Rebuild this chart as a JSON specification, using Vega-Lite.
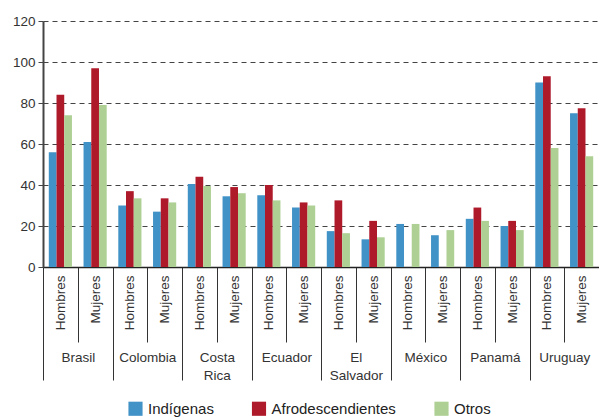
{
  "$schema": "https://vega.github.io/schema/vega-lite/v6.json",
  "width": 556,
  "height": 246,
  "autosize": {"type": "none"},
  "padding": {"left": 43, "top": 21, "right": 0, "bottom": 151},
  "background": "white",
  "config": {
    "view": {"stroke": null},
    "font": "Liberation Sans",
    "axis": {"labelFont": "Liberation Sans", "labelFontSize": 13.5, "labelColor": "#333333"}
  },
  "data": {
    "values": [
      {"grupo": "Brasil|Hombres", "serie": "Indígenas", "valor": 56},
      {"grupo": "Brasil|Hombres", "serie": "Afrodescendientes", "valor": 84},
      {"grupo": "Brasil|Hombres", "serie": "Otros", "valor": 74},
      {"grupo": "Brasil|Mujeres", "serie": "Indígenas", "valor": 61},
      {"grupo": "Brasil|Mujeres", "serie": "Afrodescendientes", "valor": 97},
      {"grupo": "Brasil|Mujeres", "serie": "Otros", "valor": 79},
      {"grupo": "Colombia|Hombres", "serie": "Indígenas", "valor": 30},
      {"grupo": "Colombia|Hombres", "serie": "Afrodescendientes", "valor": 37},
      {"grupo": "Colombia|Hombres", "serie": "Otros", "valor": 33.5},
      {"grupo": "Colombia|Mujeres", "serie": "Indígenas", "valor": 27},
      {"grupo": "Colombia|Mujeres", "serie": "Afrodescendientes", "valor": 33.5},
      {"grupo": "Colombia|Mujeres", "serie": "Otros", "valor": 31.5},
      {"grupo": "Costa Rica|Hombres", "serie": "Indígenas", "valor": 40.5},
      {"grupo": "Costa Rica|Hombres", "serie": "Afrodescendientes", "valor": 44},
      {"grupo": "Costa Rica|Hombres", "serie": "Otros", "valor": 39.5},
      {"grupo": "Costa Rica|Mujeres", "serie": "Indígenas", "valor": 34.5},
      {"grupo": "Costa Rica|Mujeres", "serie": "Afrodescendientes", "valor": 39},
      {"grupo": "Costa Rica|Mujeres", "serie": "Otros", "valor": 36},
      {"grupo": "Ecuador|Hombres", "serie": "Indígenas", "valor": 35},
      {"grupo": "Ecuador|Hombres", "serie": "Afrodescendientes", "valor": 40},
      {"grupo": "Ecuador|Hombres", "serie": "Otros", "valor": 32.5},
      {"grupo": "Ecuador|Mujeres", "serie": "Indígenas", "valor": 29},
      {"grupo": "Ecuador|Mujeres", "serie": "Afrodescendientes", "valor": 31.5},
      {"grupo": "Ecuador|Mujeres", "serie": "Otros", "valor": 30},
      {"grupo": "El Salvador|Hombres", "serie": "Indígenas", "valor": 17.5},
      {"grupo": "El Salvador|Hombres", "serie": "Afrodescendientes", "valor": 32.5},
      {"grupo": "El Salvador|Hombres", "serie": "Otros", "valor": 16.5},
      {"grupo": "El Salvador|Mujeres", "serie": "Indígenas", "valor": 13.5},
      {"grupo": "El Salvador|Mujeres", "serie": "Afrodescendientes", "valor": 22.5},
      {"grupo": "El Salvador|Mujeres", "serie": "Otros", "valor": 14.5},
      {"grupo": "México|Hombres", "serie": "Indígenas", "valor": 21},
      {"grupo": "México|Hombres", "serie": "Otros", "valor": 21},
      {"grupo": "México|Mujeres", "serie": "Indígenas", "valor": 15.5},
      {"grupo": "México|Mujeres", "serie": "Otros", "valor": 18},
      {"grupo": "Panamá|Hombres", "serie": "Indígenas", "valor": 23.5},
      {"grupo": "Panamá|Hombres", "serie": "Afrodescendientes", "valor": 29},
      {"grupo": "Panamá|Hombres", "serie": "Otros", "valor": 22.5},
      {"grupo": "Panamá|Mujeres", "serie": "Indígenas", "valor": 20},
      {"grupo": "Panamá|Mujeres", "serie": "Afrodescendientes", "valor": 22.5},
      {"grupo": "Panamá|Mujeres", "serie": "Otros", "valor": 18},
      {"grupo": "Uruguay|Hombres", "serie": "Indígenas", "valor": 90},
      {"grupo": "Uruguay|Hombres", "serie": "Afrodescendientes", "valor": 93},
      {"grupo": "Uruguay|Hombres", "serie": "Otros", "valor": 58},
      {"grupo": "Uruguay|Mujeres", "serie": "Indígenas", "valor": 75},
      {"grupo": "Uruguay|Mujeres", "serie": "Afrodescendientes", "valor": 77.5},
      {"grupo": "Uruguay|Mujeres", "serie": "Otros", "valor": 54}
    ]
  },
  "resolve": {"axis": {"x": "independent"}},
  "layer": [
    {
      "mark": {"type": "bar", "opacity": 0},
      "encoding": {
        "x": {
          "field": "grupo", "type": "nominal", "sort": null,
          "scale": {"paddingInner": 0, "paddingOuter": 0},
          "axis": {
            "orient": "bottom",
            "title": null,
            "domain": false,
            "labelExpr": "(datum.value && test(/Hombres/, '' + datum.value)) ? split(split('' + datum.value, '|')[0], ' ') : ''",
            "labelAngle": 0,
            "labelAlign": "center",
            "labelBaseline": "top",
            "labelOffset": 17.4,
            "labelPadding": -29.5,
            "labelLineHeight": 18,
            "labelOverlap": false,
            "tickBand": "extent",
            "tickSize": 113,
            "tickWidth": 1,
            "tickColor": {"condition": {"test": "!datum.value || datum.extra || test(/Mujeres/, '' + datum.value)", "value": "#333333"}, "value": "transparent"}
          }
        },
        "y": {
          "field": "valor", "type": "quantitative",
          "scale": {"domain": [0, 120], "nice": false},
          "axis": {
            "title": null,
            "values": [0, 20, 40, 60, 80, 100, 120],
            "grid": true,
            "gridDash": [5, 4],
            "gridColor": "#444444",
            "gridWidth": 1,
            "domainColor": "#444444",
            "domainWidth": 2,
            "tickColor": "#444444",
            "tickSize": 5,
            "labelPadding": 3
          }
        }
      }
    },
    {
      "mark": {"type": "bar"},
      "encoding": {
        "x": {
          "field": "grupo", "type": "nominal", "sort": null,
          "axis": {
            "orient": "bottom",
            "title": null,
            "labelExpr": "datum.value ? split('' + datum.value, '|')[1] : ''",
            "labelAngle": 270,
            "labelAlign": "right",
            "labelBaseline": "middle",
            "labelPadding": -67,
            "labelOverlap": false,
            "tickBand": "extent",
            "tickSize": 75,
            "tickColor": "#333333",
            "tickWidth": 1,
            "domainColor": "#222222",
            "domainWidth": 1.5
          }
        },
        "xOffset": {
          "field": "serie", "type": "nominal",
          "sort": ["Indígenas", "Afrodescendientes", "Otros"],
          "scale": {"domain": ["Indígenas", "Afrodescendientes", "Otros"], "paddingInner": 0, "paddingOuter": 0.75}
        },
        "y": {
          "field": "valor", "type": "quantitative",
          "axis": {
            "title": null,
            "values": [0, 20, 40, 60, 80, 100, 120],
            "grid": true,
            "gridDash": [5, 4],
            "gridColor": "#444444",
            "gridWidth": 1,
            "domainColor": "#444444",
            "domainWidth": 2,
            "tickColor": "#444444",
            "tickSize": 5,
            "labelPadding": 3
          }
        },
        "color": {
          "field": "serie", "type": "nominal",
          "scale": {"domain": ["Indígenas", "Afrodescendientes", "Otros"], "range": ["#4192c6", "#af1a2b", "#aed095"]},
          "legend": {
            "title": null,
            "orient": "none",
            "direction": "horizontal",
            "legendX": 85,
            "legendY": 380,
            "symbolType": "square",
            "symbolSize": 200,
            "symbolStrokeWidth": 0,
            "symbolOpacity": 1,
            "labelFont": "Liberation Sans",
            "labelFontSize": 15,
            "labelColor": "#222222",
            "columnPadding": 37.5,
            "labelOffset": 5
          }
        }
      }
    }
  ]
}
